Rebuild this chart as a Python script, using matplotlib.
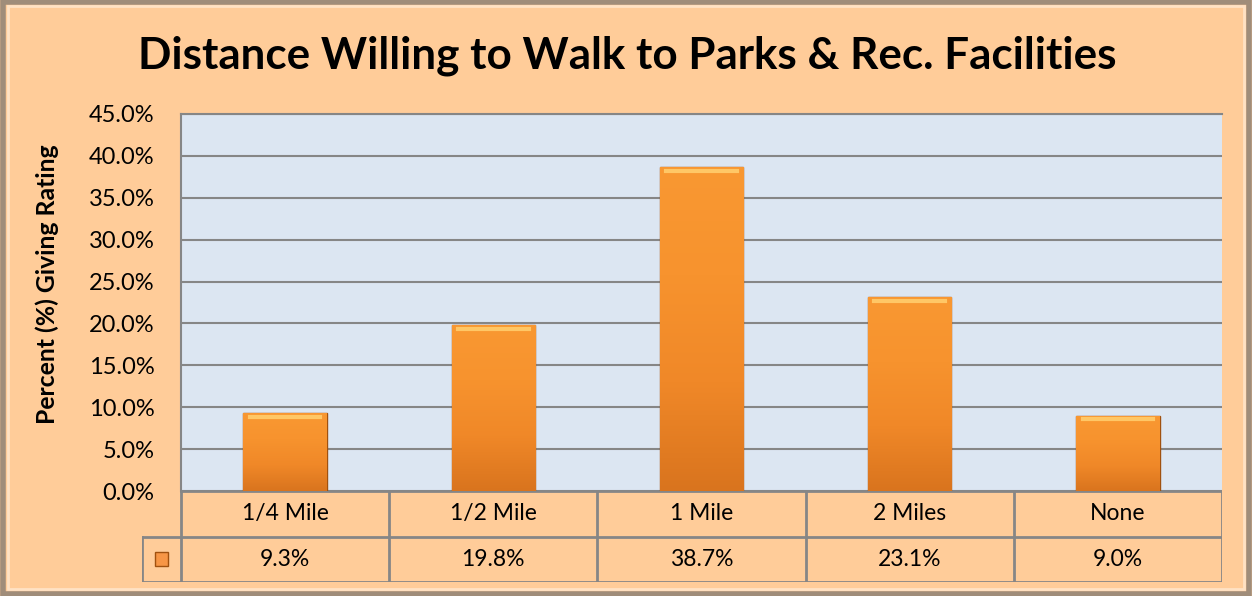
import matplotlib
matplotlib.use("Agg")
import matplotlib.pyplot as plt
import numpy as np
from matplotlib.patches import Rectangle

categories = ["1/4 Mile", "1/2 Mile", "1 Mile", "2 Miles", "None"]
values = [9.3, 19.8, 38.7, 23.1, 9.0]
yticks = [0, 5, 10, 15, 20, 25, 30, 35, 40, 45]
title = "Distance Willing to Walk to Parks & Rec. Facilities"
ylabel = "Percent (%) Giving Rating"

BG = "#FFCC99"
PLOT_BG = "#DCE6F2"
GRID = "#868686"
FONT = "Lato"

W, H = 1252, 596
fig = plt.figure(figsize=(W / 100, H / 100), dpi=100, facecolor=BG)

# bevelled frame
fig.patches.append(Rectangle((0.002, 0.004), 0.996, 0.992, transform=fig.transFigure,
                             fill=False, ec="#A08D7A", lw=4))
fig.patches.append(Rectangle((0.006, 0.012), 0.988, 0.978, transform=fig.transFigure,
                             fill=False, ec="#FFE2C4", lw=2))

fig.text(0.501, 0.907, title, ha="center", va="center", fontsize=31.7,
         fontweight="bold", family=FONT)

ax = fig.add_axes([181 / W, 1 - 491 / H, (1222 - 181) / W, (491 - 114) / H])
ax.set_facecolor(PLOT_BG)
x = np.arange(len(categories))
bars = ax.bar(x, values, width=0.4, color="#F79646", edgecolor="#A0510F", lw=1, zorder=3)

# vertical gradient on bars
grad = np.linspace(0, 1, 256).reshape(-1, 1)
cmap = matplotlib.colors.LinearSegmentedColormap.from_list(
    "bar", ["#D9741E", "#F08828", "#F7932E", "#F99832"])
for b in bars:
    x0, y0 = b.get_x(), b.get_y()
    im = ax.imshow(grad, extent=(x0, x0 + b.get_width(), y0, y0 + b.get_height()),
                   origin="lower", cmap=cmap, aspect="auto", zorder=3.5)
    im.set_clip_path(b)
    ax.plot([x0 + 0.03, x0 + b.get_width() - 0.03], [b.get_height() - 0.45] * 2,
            color="#FFC766", lw=3, zorder=4)

ax.set_xlim(-0.5, len(categories) - 0.5)
ax.set_ylim(0, 45)
ax.set_yticks(yticks)
ax.set_yticklabels([f"{v:.1f}%" for v in yticks], fontsize=17, family=FONT)
ax.set_xticks([])
ax.tick_params(axis="y", length=0, pad=19)
ax.grid(axis="y", color=GRID, lw=1.5, zorder=1)
for s in ("right", "bottom"):
    ax.spines[s].set_visible(False)
for s in ("left", "top"):
    ax.spines[s].set_color(GRID)
    ax.spines[s].set_linewidth(1.5)
ax.set_ylabel(ylabel, fontsize=17.8, fontweight="bold", family=FONT)
ax.yaxis.set_label_coords(-0.117, 0.549)

# data table below the plot
leg_w = 39 / 208
tx = fig.add_axes([142 / W, 1 - 582 / H, (1222 - 142) / W, (582 - 491) / H])
tx.set_xlim(-0.5 - leg_w, len(categories) - 0.5)
tx.set_ylim(0, 2)
tx.axis("off")
tx.patch.set_alpha(0)
lc = dict(color=GRID, lw=2, solid_capstyle="projecting")
tx.plot([-0.5, len(categories) - 0.5], [2, 2], **lc)
tx.plot([-0.5 - leg_w, len(categories) - 0.5], [1, 1], **lc)
tx.plot([-0.5 - leg_w, len(categories) - 0.5], [0, 0], **lc)
tx.plot([-0.5 - leg_w] * 2, [0, 1], **lc)
for i in range(len(categories) + 1):
    tx.plot([i - 0.5] * 2, [0, 2], **lc)
for i, (c, v) in enumerate(zip(categories, values)):
    tx.text(i, 1.5, c, ha="center", va="center", fontsize=16.5, family=FONT)
    tx.text(i, 0.5, f"{v:.1f}%", ha="center", va="center", fontsize=16.5, family=FONT)
tx.add_patch(Rectangle((-0.5 - leg_w / 2 - 0.03, 0.35), 0.06, 0.3,
                       fc="#F79646", ec="#A0510F", lw=1))

fig.savefig("out.png", dpi=100, facecolor=BG)
